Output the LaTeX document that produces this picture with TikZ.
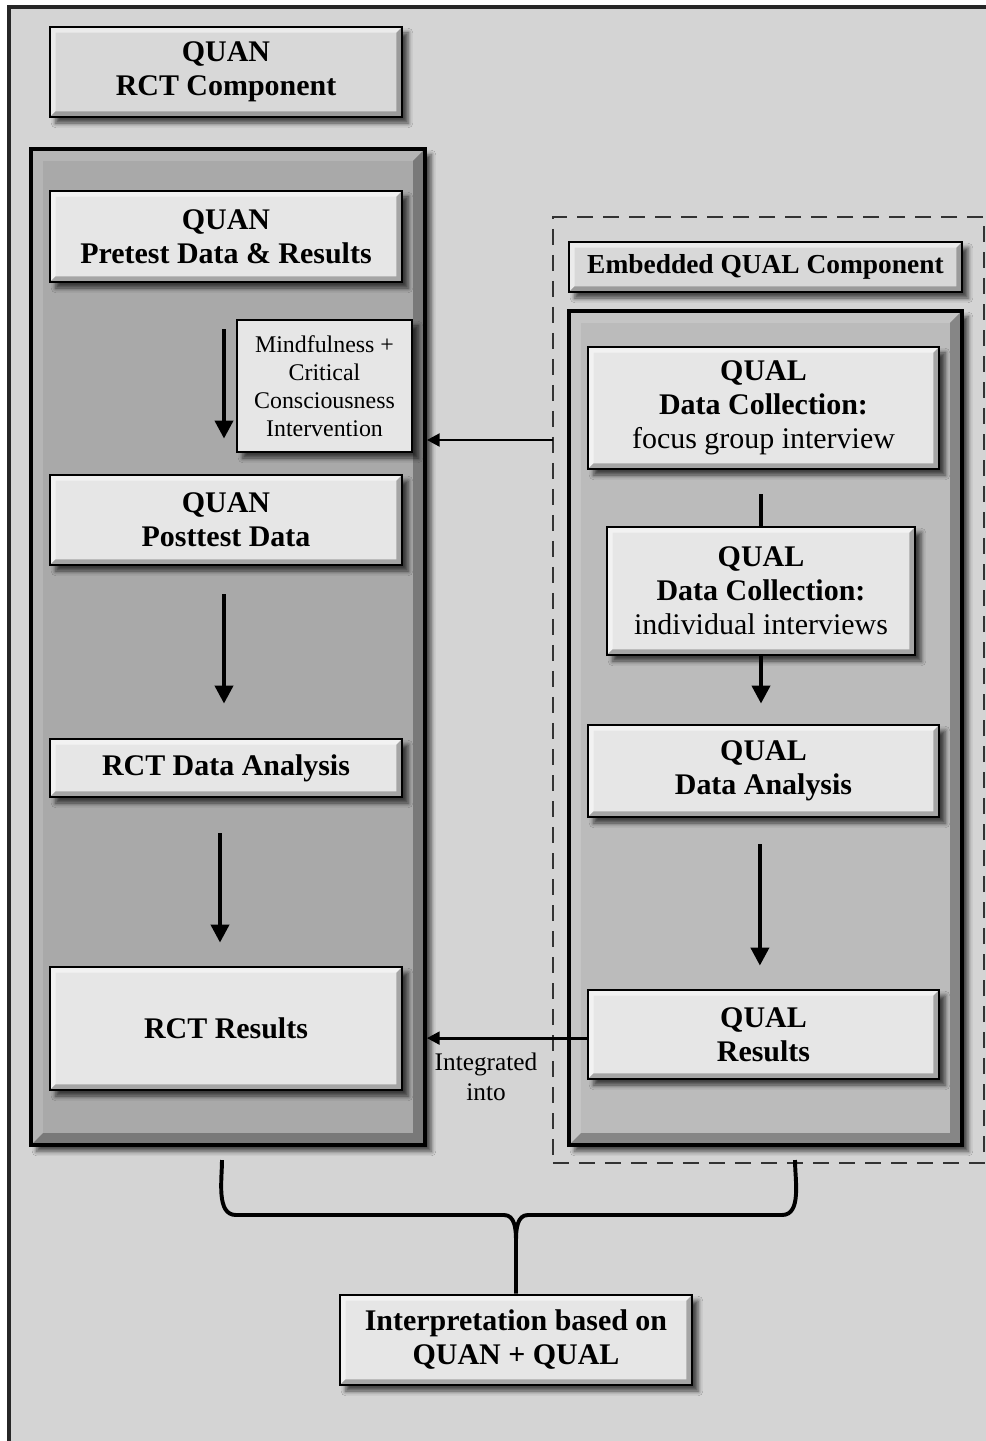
\documentclass[tikz,border=0pt]{standalone}
\usepackage{fontspec}
\setmainfont{Liberation Serif}
\usetikzlibrary{arrows.meta,shadows.blur}
\definecolor{pagegray}{HTML}{D4D4D4}
\definecolor{boxgray}{HTML}{E6E6E6}
\definecolor{headgray}{HTML}{D8D8D8}
\definecolor{quangray}{HTML}{A9A9A9}
\definecolor{qualgray}{HTML}{BBBBBB}

\begin{document}
\begin{tikzpicture}[x=0.025cm,y=-0.025cm,
        bevel/.style 2 args={path picture={
            \coordinate (bvsw) at (path picture bounding box.south west);
            \coordinate (bvne) at (path picture bounding box.north east);
            \coordinate (bvnw) at (bvsw |- bvne);
            \coordinate (bvse) at (bvne |- bvsw);
            \fill[white,opacity=#2] (bvsw) -- (bvnw) -- (bvne) -- ([shift={(-#1,-#1)}]bvne)
                -- ([shift={(#1,-#1)}]bvnw) -- ([shift={(#1,#1)}]bvsw) -- cycle;
            \fill[black,opacity=.28] (bvsw) -- ([shift={(#1,#1)}]bvsw) -- ([shift={(-#1,#1)}]bvse)
                -- ([shift={(-#1,-#1)}]bvne) -- (bvne) -- (bvse) -- cycle;
        }},
        shadebox/.style={draw=black,line width=2pt,
            blur shadow={shadow xshift=0.15cm,shadow yshift=-0.15cm,shadow blur radius=0.12cm,shadow opacity=70}},
        stepbox/.style={shadebox,bevel={0.14cm}{.5},fill=boxgray,align=center,inner sep=0pt,
            minimum width=8.8cm,font=\fontsize{21.3}{24.2}\selectfont\bfseries},
        headbox/.style={stepbox,fill=headgray},
        notebox/.style={shadebox,line width=1.2pt,fill=boxgray,align=center,inner sep=0pt,
            font=\fontsize{17}{19.9}\selectfont},
        container/.style={shadebox,line width=2.6pt,bevel={0.3cm}{.15},inner sep=0pt},
        arr/.style={line width=2.8pt,-{Triangle[width=0.45cm,length=0.45cm]}},
        harr/.style={line width=2pt,-{Triangle[width=0.32cm,length=0.32cm]}},
        link/.style={line width=2.8pt}]

    % page and frame
    \fill[white] (0,0) rectangle (986,1441);
    \useasboundingbox (0,0) rectangle (986,1441);
    \clip (0,0) rectangle (986,1441);
    \draw[fill=pagegray,line width=2.2pt,draw=black!85] (9,7) rectangle (1010,1460);

    % QUAN side
    \node[headbox,minimum height=2.25cm] (quanhead) at (226,72) {QUAN\\RCT Component};
    \node[container,fill=quangray,minimum width=9.85cm,minimum height=24.9cm] (quanbox) at (228,647) {};
    \node[stepbox,minimum height=2.275cm] (pretest) at (226,236.5) {QUAN\\Pretest Data \& Results};
    \node[notebox,minimum width=4.375cm,minimum height=3.3cm] (interv) at (324.5,386)
        {Mindfulness +\\Critical\\Consciousness\\Intervention};
    \node[stepbox,minimum height=2.25cm] (posttest) at (226,520) {QUAN\\Posttest Data};
    \node[stepbox,minimum height=1.45cm] (rctanalysis) at (226,768) {RCT Data Analysis};
    \node[stepbox,minimum height=3.075cm] (rctresults) at (226,1028.5) {RCT Results};

    \draw[arr,shorten <=1.15cm,shorten >=0.875cm] ([xshift=-0.05cm]pretest.south) -- ([xshift=-0.05cm]posttest.north);
    \draw[arr,shorten <=0.7cm,shorten >=0.85cm] ([xshift=-0.05cm]posttest.south) -- ([xshift=-0.05cm]rctanalysis.north);
    \draw[arr,shorten <=0.875cm,shorten >=0.575cm] ([xshift=-0.15cm]rctanalysis.south) -- ([xshift=-0.15cm]rctresults.north);

    % embedded QUAL side
    \node[draw=black!80,line width=1.3pt,dash pattern=on 0.4cm off 0.25cm,
        minimum width=10.775cm,minimum height=23.65cm] (embed) at (768.5,690) {};
    \node[headbox,minimum width=9.825cm,minimum height=1.25cm,font=\fontsize{19.5}{22}\selectfont\bfseries]
        (embedhead) at (765.5,267) {Embedded QUAL Component};
    \node[container,fill=qualgray,minimum width=9.825cm,minimum height=20.85cm] (qualbox) at (765.5,728) {};
    \node[stepbox,minimum width=8.775cm,minimum height=3.05cm] (focus) at (763.5,408)
        {QUAL\\Data Collection:\\{\mdseries focus group interview}};
    \node[stepbox,minimum width=7.7cm,minimum height=3.2cm] (indiv) at (761,591)
        {QUAL\\Data Collection:\\{\mdseries individual interviews}};
    \node[stepbox,minimum width=8.775cm,minimum height=2.3cm] (qualanalysis) at (763.5,771) {QUAL\\Data Analysis};
    \node[stepbox,minimum width=8.775cm,minimum height=2.225cm] (qualresults) at (763.5,1034.5) {QUAL\\Results};

    \draw[link] (indiv.north) -- ([yshift=-0.6cm]indiv.north |- focus.south);
    \draw[arr,shorten >=0.5cm] (indiv.south) -- (indiv.south |- qualanalysis.north);
    \draw[arr,shorten <=0.65cm,shorten >=0.575cm] ([xshift=-0.09cm]qualanalysis.south) -- ([xshift=-0.09cm]qualresults.north);

    % links between the two sides
    \coordinate (embedin) at (553,440);
    \draw[harr] (embedin) -- (quanbox.east |- embedin);
    \draw[harr] ([yshift=-0.09cm]qualresults.west) -- ([yshift=-0.09cm]quanbox.east |- qualresults.west);
    \node[align=center,font=\fontsize{18}{21.3}\selectfont] (intlabel) at (486,1077) {Integrated\\into};

    % brace and interpretation
    \node[stepbox,minimum height=2.25cm] (interp) at (516,1340) {Interpretation based on\\QUAN + QUAL};
    \coordinate (braceL) at (222,1160);
    \coordinate (braceR) at (795,1160);
    \coordinate (bracetip) at (516,1240);
    \draw[link] (braceL) to[out=-90,in=180,looseness=0.9] (236,1215) -- (504,1215)
        to[out=0,in=90] (bracetip) -- (interp.north);
    \draw[link] (braceR) to[out=-90,in=0,looseness=0.9] (782,1215) -- (528,1215)
        to[out=180,in=90] (bracetip);
\end{tikzpicture}
\end{document}
